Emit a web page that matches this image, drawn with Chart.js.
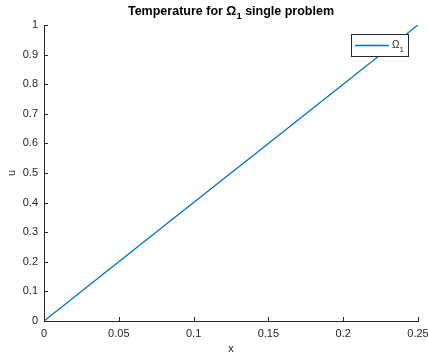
<!DOCTYPE html>
<html>
<head>
<meta charset="utf-8">
<script src="https://cdn.jsdelivr.net/npm/chart.js@4/dist/chart.umd.min.js"></script>
<style>
  html, body { margin: 0; padding: 0; background: #fff; }
  #wrap { width: 428px; height: 356px; }
</style>
</head>
<body>
<div id="wrap"><canvas id="tempChart" width="428" height="356"></canvas></div>
<script>
// values
var xValues = [0, 0.05, 0.1, 0.15, 0.2, 0.25];
var uValues = [0, 0.2, 0.4, 0.6, 0.8, 1.0];
var xTicks = [0, 0.05, 0.1, 0.15, 0.2, 0.25];
var yTicks = [0, 0.1, 0.2, 0.3, 0.4, 0.5, 0.6, 0.7, 0.8, 0.9, 1];

var lineColor = '#0072BD';
var axisColor = '#262626';
var fontFam = '"Liberation Sans", Arial, Helvetica, sans-serif';

var points = [];
for (var i = 0; i < xValues.length; i++) {
    points.push({x: xValues[i], y: uValues[i]});
}

// title with subscript, drawn above the plot
var titlePlugin = {
    id: 'matTitle',
    afterDraw: function(chart) {
        var ctx = chart.ctx;
        var area = chart.chartArea;
        var parts = [
            {t: 'Temperature for \u03A9', f: 'bold 12.5px ' + fontFam, dy: 0},
            {t: '1', f: 'bold 9.5px ' + fontFam, dy: 4},
            {t: ' single problem', f: 'bold 12.5px ' + fontFam, dy: 0}
        ];
        ctx.save();
        var w = 0;
        parts.forEach(function(p) { ctx.font = p.f; p.w = ctx.measureText(p.t).width; w += p.w; });
        var x = (area.left + area.right) / 2 - w / 2;
        ctx.fillStyle = '#000';
        ctx.textBaseline = 'alphabetic';
        parts.forEach(function(p) {
            ctx.font = p.f;
            ctx.fillText(p.t, x, 15 + p.dy);
            x += p.w;
        });
        ctx.restore();
    }
};

// inward tick marks, as in the original
var tickPlugin = {
    id: 'innerTicks',
    afterDraw: function(chart) {
        var ctx = chart.ctx;
        var xs = chart.scales.x, ys = chart.scales.y;
        var area = chart.chartArea;
        ctx.save();
        ctx.strokeStyle = axisColor;
        ctx.lineWidth = 1;
        ctx.beginPath();
        xs.ticks.forEach(function(t) {
            var px = Math.round(xs.getPixelForValue(t.value)) + 0.5;
            ctx.moveTo(px, area.bottom);
            ctx.lineTo(px, area.bottom - 4);
        });
        ys.ticks.forEach(function(t) {
            var py = Math.round(ys.getPixelForValue(t.value)) + 0.5;
            ctx.moveTo(area.left, py);
            ctx.lineTo(area.left + 4, py);
        });
        ctx.stroke();
        ctx.restore();
    }
};

// boxed legend in the top right corner
var legendPlugin = {
    id: 'matLegend',
    afterDraw: function(chart) {
        var ctx = chart.ctx;
        var bx = 351.5, by = 34.5, bw = 57, bh = 22;
        ctx.save();
        ctx.fillStyle = '#fff';
        ctx.fillRect(bx, by, bw, bh);
        ctx.strokeStyle = axisColor;
        ctx.lineWidth = 1;
        ctx.strokeRect(bx, by, bw, bh);
        ctx.strokeStyle = lineColor;
        ctx.lineWidth = 1.3;
        ctx.beginPath();
        ctx.moveTo(355, 45.5);
        ctx.lineTo(389, 45.5);
        ctx.stroke();
        ctx.fillStyle = axisColor;
        ctx.font = '10px ' + fontFam;
        ctx.textBaseline = 'alphabetic';
        ctx.fillText('\u03A9', 392, 48);
        ctx.font = '8px ' + fontFam;
        ctx.fillText('1', 399.5, 52);
        ctx.restore();
    }
};

var ctx = document.getElementById('tempChart');
var tempChart = new Chart(ctx, {
    type: 'line',
    data: {
        datasets: [{
            label: '\u03A9\u2081',
            data: points,
            borderColor: lineColor,
            borderWidth: 1.3,
            pointRadius: 0,
            fill: false,
            tension: 0
        }]
    },
    options: {
        responsive: false,
        animation: false,
        devicePixelRatio: 1,
        layout: { padding: {left: 0, right: 10, top: 25, bottom: 0} },
        plugins: {
            legend: { display: false },
            tooltip: { enabled: false },
            title: { display: false }
        },
        scales: {
            x: {
                type: 'linear',
                min: 0,
                max: 0.25,
                afterBuildTicks: function(s) { s.ticks = xTicks.map(function(v) { return {value: v}; }); },
                afterFit: function(s) { s.height = 35; s.paddingLeft = 0; s.paddingRight = 0; },
                grid: { display: false, drawTicks: false },
                border: { display: true, color: axisColor, width: 1 },
                ticks: {
                    padding: 6,
                    color: axisColor,
                    font: { family: fontFam, size: 11 },
                    maxRotation: 0,
                    callback: function(v) { return String(+v.toFixed(2)); }
                },
                title: {
                    display: true,
                    text: 'x',
                    color: axisColor,
                    font: { family: fontFam, size: 11 },
                    padding: {top: 0, bottom: 0}
                }
            },
            y: {
                type: 'linear',
                min: 0,
                max: 1,
                afterBuildTicks: function(s) { s.ticks = yTicks.map(function(v) { return {value: v}; }); },
                afterFit: function(s) { s.width = 44; s.paddingTop = 0; s.paddingBottom = 0; },
                grid: { display: false, drawTicks: false },
                border: { display: true, color: axisColor, width: 1 },
                ticks: {
                    padding: 6,
                    color: axisColor,
                    font: { family: fontFam, size: 11 },
                    callback: function(v) { return String(+v.toFixed(1)); }
                },
                title: {
                    display: true,
                    text: 'u',
                    color: axisColor,
                    font: { family: fontFam, size: 11 },
                    padding: {top: 5, bottom: 0}
                }
            }
        }
    },
    plugins: [titlePlugin, tickPlugin, legendPlugin]
});
</script>
</body>
</html>
